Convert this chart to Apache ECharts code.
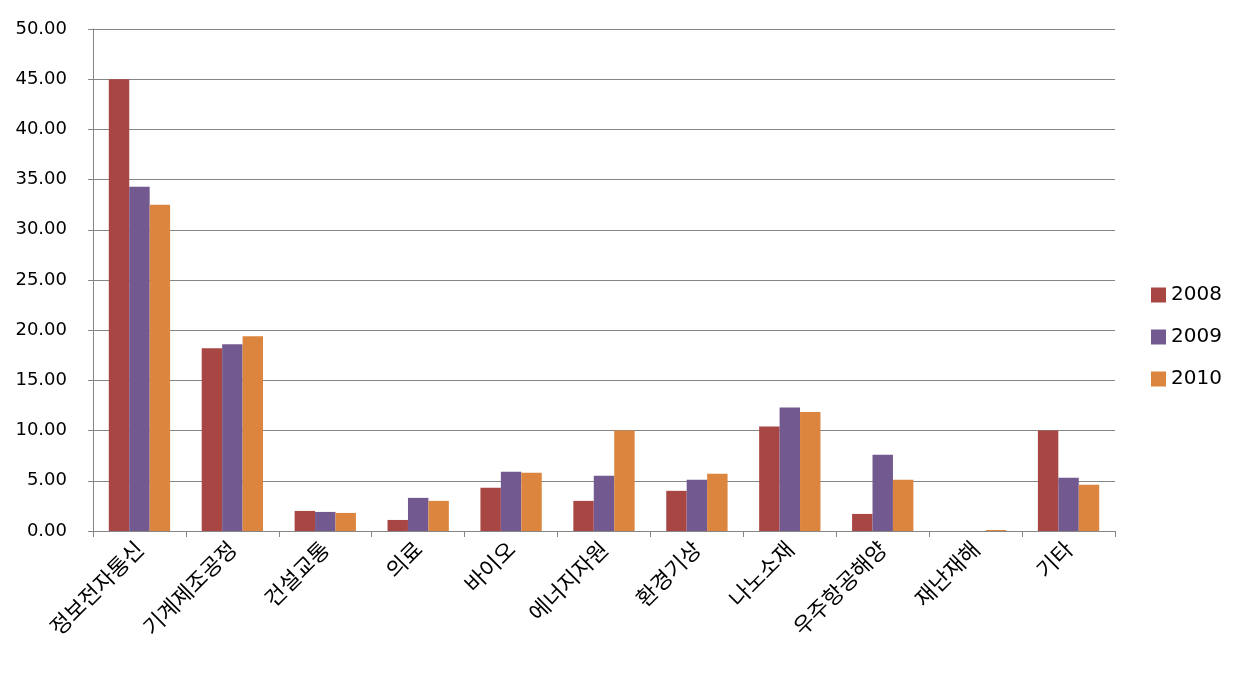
<!DOCTYPE html>
<html><head><meta charset="utf-8">
<script src="https://cdn.jsdelivr.net/npm/echarts@6/dist/echarts.min.js"></script>
<style>html,body{margin:0;padding:0;background:#fff}#c{width:1242px;height:675px}</style>
</head><body><div id="c"></div>
<script>
const categories = ['정보전자통신','기계제조공정','건설교통','의료','바이오','에너지자원','환경기상','나노소재','우주항공해양','재난재해','기타'];
const seriesNames = ['2008','2009','2010'];
const v2008 = [45.0, 18.2, 2.0, 1.1, 4.3, 3.0, 4.0, 10.4, 1.7, 0, 10.0];
const v2009 = [34.3, 18.6, 1.9, 3.3, 5.9, 5.5, 5.1, 12.3, 7.6, 0, 5.3];
const v2010 = [32.5, 19.4, 1.8, 3.0, 5.8, 10.0, 5.7, 11.85, 5.1, 0.1, 4.6];
const colors = ['#A84644', '#725A90', '#DC853E'];
const kfont = '"Noto Sans CJK KR", "Noto Sans", sans-serif';
const nfont = '"DejaVu Sans", sans-serif';
const chart = echarts.init(document.getElementById('c'));
chart.setOption({
  animation: false,
  color: colors,
  textStyle: {fontFamily: nfont},
  grid: {left: 93, right: 127, top: 29, bottom: 144, containLabel: false},
  legend: {
    orient: 'vertical', left: 1146, top: 280, itemGap: 22,
    itemWidth: 15, itemHeight: 15, icon: 'rect',
    textStyle: {fontSize: 20, color: '#000', fontFamily: nfont},
    data: seriesNames
  },
  xAxis: {
    type: 'category', data: categories,
    axisLine: {lineStyle: {color: '#868686', width: 1}},
    axisTick: {show: true, length: 6, lineStyle: {color: '#868686'}},
    axisLabel: {rotate: 45, fontSize: 22, color: '#000', margin: 14, interval: 0, fontFamily: kfont}
  },
  yAxis: {
    type: 'value', min: 0, max: 50, interval: 5,
    axisLine: {show: true, lineStyle: {color: '#868686'}},
    axisTick: {show: true, length: 5, lineStyle: {color: '#868686'}},
    splitLine: {lineStyle: {color: '#868686', width: 1}},
    axisLabel: {fontSize: 18, color: '#000', margin: 26, fontFamily: nfont, formatter: v => v.toFixed(2)}
  },
  series: [
    {name: seriesNames[0], type: 'bar', data: v2008, barGap: '0%', barCategoryGap: '34%'},
    {name: seriesNames[1], type: 'bar', data: v2009, barGap: '0%', barCategoryGap: '34%'},
    {name: seriesNames[2], type: 'bar', data: v2010, barGap: '0%', barCategoryGap: '34%'}
  ]
});
</script></body></html>
